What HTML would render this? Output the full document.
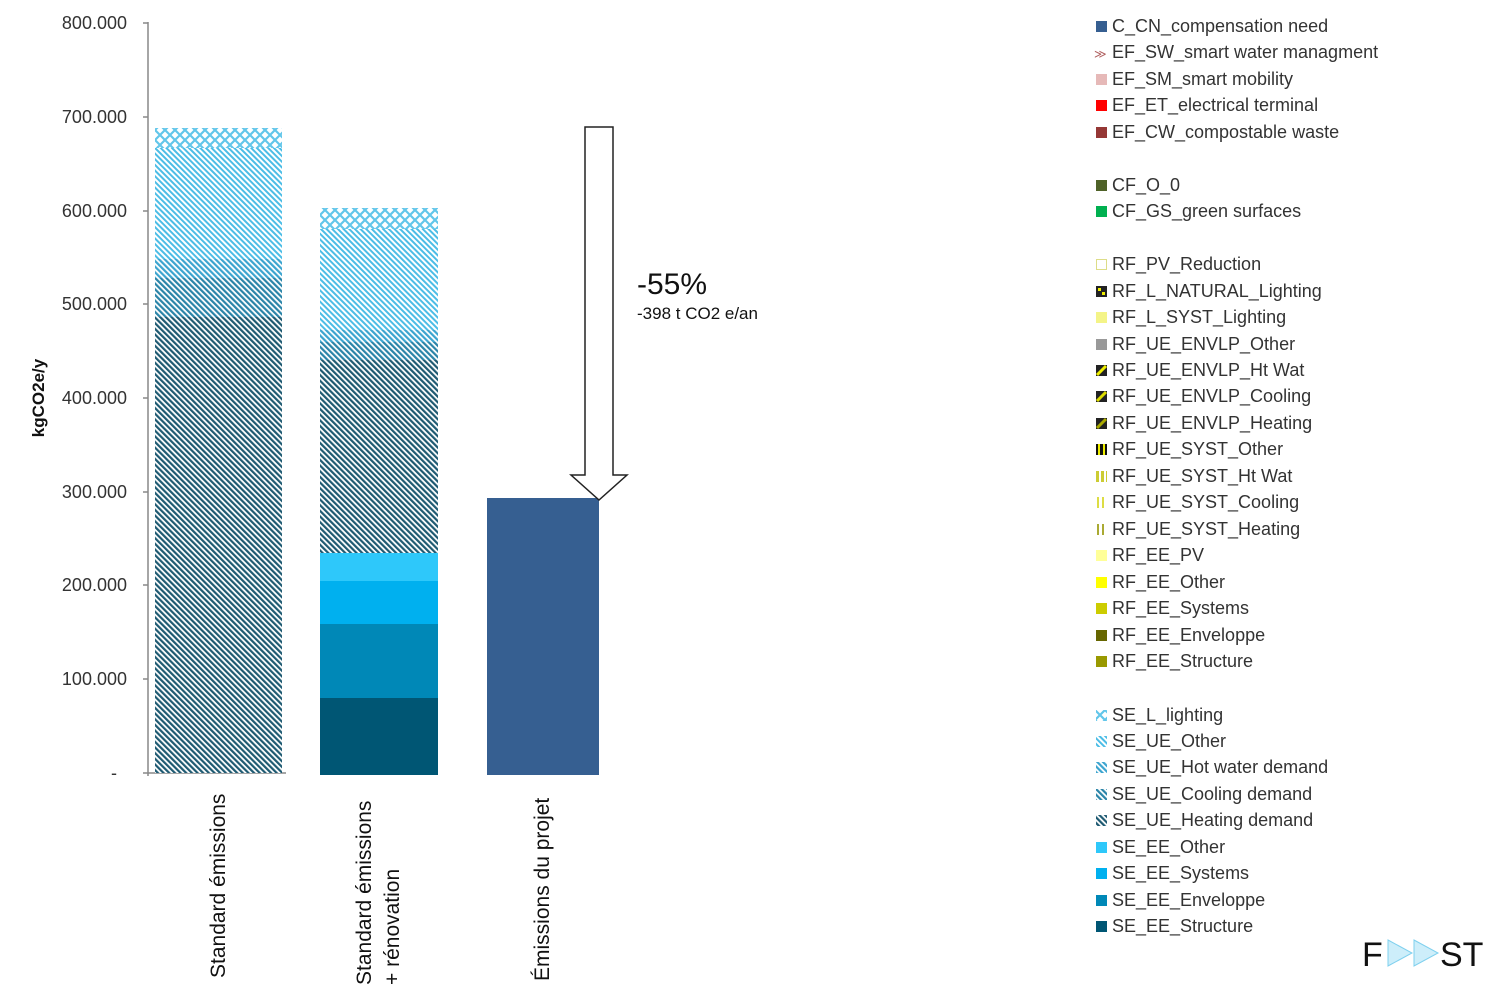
<!DOCTYPE html>
<html><head><meta charset="utf-8"><style>
html,body{margin:0;padding:0;background:#fff}
svg{display:block}
text{font-family:"Liberation Sans",sans-serif}
</style></head><body>
<svg width="1501" height="1000" viewBox="0 0 1501 1000" xmlns="http://www.w3.org/2000/svg">
<defs>
<pattern id="pHeat" width="4" height="4" patternUnits="userSpaceOnUse" patternTransform="rotate(-45)"><rect width="4" height="4" fill="#fff"/><rect width="2.2" height="4" fill="#1e5a72"/></pattern>
<pattern id="pCool" width="4" height="4" patternUnits="userSpaceOnUse" patternTransform="rotate(-45)"><rect width="4" height="4" fill="#fff"/><rect width="2.2" height="4" fill="#2a84a8"/></pattern>
<pattern id="pHot" width="4" height="4" patternUnits="userSpaceOnUse" patternTransform="rotate(-45)"><rect width="4" height="4" fill="#fff"/><rect width="2.2" height="4" fill="#3ba4cf"/></pattern>
<pattern id="pOther" width="4" height="4" patternUnits="userSpaceOnUse" patternTransform="rotate(-45)"><rect width="4" height="4" fill="#fff"/><rect width="2" height="4" fill="#4cbde6"/></pattern>
<pattern id="pLight" width="10" height="10" patternUnits="userSpaceOnUse"><rect width="10" height="10" fill="#fff"/><path d="M0 5 L5 0 L10 5 L5 10 Z" fill="none" stroke="#62c6ea" stroke-width="2.2"/></pattern>
</defs>

<line x1="148" y1="22" x2="148" y2="776" stroke="#888" stroke-width="1.5"/>
<line x1="143" y1="773" x2="286" y2="773" stroke="#888" stroke-width="1.5"/>
<g stroke="#888" stroke-width="1.5">
<line x1="143" y1="23" x2="148" y2="23"/><line x1="143" y1="117" x2="148" y2="117"/>
<line x1="143" y1="211" x2="148" y2="211"/><line x1="143" y1="304" x2="148" y2="304"/>
<line x1="143" y1="398" x2="148" y2="398"/><line x1="143" y1="492" x2="148" y2="492"/>
<line x1="143" y1="585" x2="148" y2="585"/><line x1="143" y1="679" x2="148" y2="679"/>
</g>
<g font-size="18" fill="#333" text-anchor="end">
<text x="127" y="29">800.000</text><text x="127" y="123">700.000</text>
<text x="127" y="217">600.000</text><text x="127" y="310">500.000</text>
<text x="127" y="404">400.000</text><text x="127" y="498">300.000</text>
<text x="127" y="591">200.000</text><text x="127" y="685">100.000</text>
<text x="117" y="779">-</text>
</g>
<text transform="translate(44,398) rotate(-90)" font-size="17" font-weight="bold" fill="#111" text-anchor="middle">kgCO2e/y</text>

<rect x="155" y="317" width="127" height="456" fill="url(#pHeat)"/>
<rect x="155" y="278" width="127" height="39" fill="url(#pCool)"/>
<rect x="155" y="259" width="127" height="19" fill="url(#pHot)"/>
<rect x="155" y="148" width="127" height="111" fill="url(#pOther)"/>
<rect x="155" y="128" width="127" height="20" fill="url(#pLight)"/>

<rect x="320" y="698" width="118" height="77" fill="#005674"/>
<rect x="320" y="624" width="118" height="74" fill="#0088b7"/>
<rect x="320" y="581" width="118" height="43" fill="#00b0ef"/>
<rect x="320" y="553" width="118" height="28" fill="#2ec8fa"/>
<rect x="320" y="360" width="118" height="193" fill="url(#pHeat)"/>
<rect x="320" y="342" width="118" height="18" fill="url(#pCool)"/>
<rect x="320" y="330" width="118" height="12" fill="url(#pHot)"/>
<rect x="320" y="229" width="118" height="101" fill="url(#pOther)"/>
<rect x="320" y="208" width="118" height="21" fill="url(#pLight)"/>

<rect x="487" y="498" width="112" height="277" fill="#365f91"/>

<path d="M585 127 L613 127 L613 475 L627 475 L599 500 L571 475 L585 475 Z" fill="#fff" stroke="#222" stroke-width="1.5"/>
<text x="637" y="294" font-size="30" fill="#111">-55%</text>
<text x="637" y="319" font-size="17" fill="#111">-398 t CO2 e/an</text>

<g font-size="21" fill="#111">
<text transform="translate(225,978) rotate(-90)">Standard émissions</text>
<text transform="translate(371,985) rotate(-90)">Standard émissions</text>
<text transform="translate(399,985) rotate(-90)">+ rénovation</text>
<text transform="translate(549,981) rotate(-90)">Émissions du projet</text>
</g>

<g font-size="18" fill="#333">
<rect x="1096" y="21" width="11" height="11" fill="#365f91"/><text x="1112" y="32">C_CN_compensation need</text>
<text x="1094" y="58" font-size="12" fill="#b06060">≫</text><text x="1112" y="58">EF_SW_smart water managment</text>
<rect x="1096" y="74" width="11" height="11" fill="#e6b9b8"/><text x="1112" y="85">EF_SM_smart mobility</text>
<rect x="1096" y="100" width="11" height="11" fill="#ff0000"/><text x="1112" y="111">EF_ET_electrical terminal</text>
<rect x="1096" y="127" width="11" height="11" fill="#953735"/><text x="1112" y="138">EF_CW_compostable waste</text>
<rect x="1096" y="180" width="11" height="11" fill="#4f6228"/><text x="1112" y="191">CF_O_0</text>
<rect x="1096" y="206" width="11" height="11" fill="#00b050"/><text x="1112" y="217">CF_GS_green surfaces</text>
<rect x="1096.5" y="259.5" width="10" height="10" fill="#fff" stroke="#dddd88"/><text x="1112" y="270">RF_PV_Reduction</text>
<rect x="1096" y="286" width="11" height="11" fill="#222"/><rect x="1098" y="288" width="3" height="3" fill="#ee0"/><rect x="1102" y="292" width="3" height="3" fill="#ee0"/><text x="1112" y="297">RF_L_NATURAL_Lighting</text>
<rect x="1096" y="312" width="11" height="11" fill="#f4f488"/><text x="1112" y="323">RF_L_SYST_Lighting</text>
<rect x="1096" y="339" width="11" height="11" fill="#999"/><text x="1112" y="350">RF_UE_ENVLP_Other</text>
<rect x="1096" y="365" width="11" height="11" fill="#222"/><path d="M1097 375 L1106 366" stroke="#ee0" stroke-width="3"/><text x="1112" y="376">RF_UE_ENVLP_Ht Wat</text>
<rect x="1096" y="391" width="11" height="11" fill="#222"/><path d="M1097 401 L1106 392" stroke="#dd0" stroke-width="3"/><text x="1112" y="402">RF_UE_ENVLP_Cooling</text>
<rect x="1096" y="418" width="11" height="11" fill="#222"/><path d="M1097 428 L1106 419" stroke="#aa0" stroke-width="3"/><text x="1112" y="429">RF_UE_ENVLP_Heating</text>
<rect x="1096" y="444" width="11" height="11" fill="#111"/><rect x="1098" y="444" width="2" height="11" fill="#ee0"/><rect x="1103" y="444" width="2" height="11" fill="#ee0"/><text x="1112" y="455">RF_UE_SYST_Other</text>
<rect x="1096" y="471" width="11" height="11" fill="#cccc33"/><rect x="1099" y="471" width="2" height="11" fill="#fff"/><rect x="1104" y="471" width="2" height="11" fill="#fff"/><text x="1112" y="482">RF_UE_SYST_Ht Wat</text>
<rect x="1097" y="497" width="2" height="11" fill="#dddd44"/><rect x="1102" y="497" width="2" height="11" fill="#dddd44"/><text x="1112" y="508">RF_UE_SYST_Cooling</text>
<rect x="1097" y="524" width="2" height="11" fill="#aaaa33"/><rect x="1102" y="524" width="2" height="11" fill="#aaaa33"/><text x="1112" y="535">RF_UE_SYST_Heating</text>
<rect x="1096" y="550" width="11" height="11" fill="#ffff99"/><text x="1112" y="561">RF_EE_PV</text>
<rect x="1096" y="577" width="11" height="11" fill="#ffff00"/><text x="1112" y="588">RF_EE_Other</text>
<rect x="1096" y="603" width="11" height="11" fill="#cccc00"/><text x="1112" y="614">RF_EE_Systems</text>
<rect x="1096" y="630" width="11" height="11" fill="#666600"/><text x="1112" y="641">RF_EE_Enveloppe</text>
<rect x="1096" y="656" width="11" height="11" fill="#999900"/><text x="1112" y="667">RF_EE_Structure</text>
<rect x="1096" y="710" width="11" height="11" fill="url(#pLight)"/><text x="1112" y="721">SE_L_lighting</text>
<rect x="1096" y="736" width="11" height="11" fill="url(#pOther)"/><text x="1112" y="747">SE_UE_Other</text>
<rect x="1096" y="762" width="11" height="11" fill="url(#pHot)"/><text x="1112" y="773">SE_UE_Hot water demand</text>
<rect x="1096" y="789" width="11" height="11" fill="url(#pCool)"/><text x="1112" y="800">SE_UE_Cooling demand</text>
<rect x="1096" y="815" width="11" height="11" fill="url(#pHeat)"/><text x="1112" y="826">SE_UE_Heating demand</text>
<rect x="1096" y="842" width="11" height="11" fill="#2ec8fa"/><text x="1112" y="853">SE_EE_Other</text>
<rect x="1096" y="868" width="11" height="11" fill="#00b0ef"/><text x="1112" y="879">SE_EE_Systems</text>
<rect x="1096" y="895" width="11" height="11" fill="#0088b7"/><text x="1112" y="906">SE_EE_Enveloppe</text>
<rect x="1096" y="921" width="11" height="11" fill="#005674"/><text x="1112" y="932">SE_EE_Structure</text>
</g>

<text x="1362" y="966" font-size="34" fill="#111">F</text>
<path d="M1388 940 L1412 953 L1388 966 Z" fill="#cdeefa" stroke="#7fd0ee"/>
<path d="M1414 940 L1438 953 L1414 966 Z" fill="#cdeefa" stroke="#7fd0ee"/>
<text x="1440" y="966" font-size="34" fill="#111">ST</text>
</svg>
</body></html>
